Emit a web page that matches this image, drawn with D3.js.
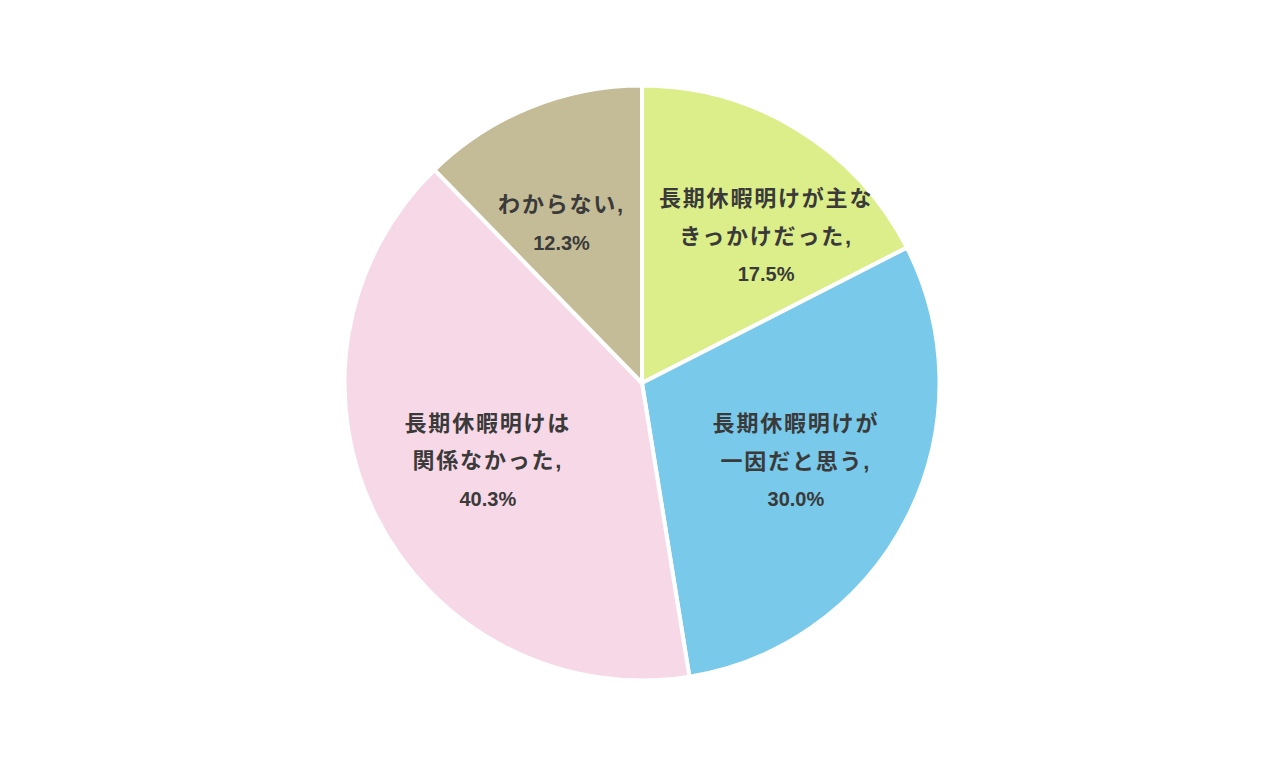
<!DOCTYPE html>
<html lang="ja">
<head>
  <meta charset="utf-8">
  <script src="https://d3js.org/d3.v7.min.js"></script>
  <style>
    body { margin: 0; background: #fff; }
    svg text {
      font-family: "Liberation Sans", "Noto Sans CJK JP", sans-serif;
      font-weight: bold;
      fill: #3a3a3a;
      text-anchor: middle;
    }
    svg text .jp { font-size: 22px; letter-spacing: 1.8px; }
    svg text .pct { font-size: 20px; }
  </style>
</head>
<body>
<script>
  // slice data, clockwise from 12 o'clock
  var labels = [
    ["長期休暇明けが主な", "きっかけだった,"],
    ["長期休暇明けが", "一因だと思う,"],
    ["長期休暇明けは", "関係なかった,"],
    ["わからない,"]
  ];
  var values = [17.5, 30.0, 40.3, 12.3];
  var colors = ["#dcee89", "#78c9ea", "#f7d8e7", "#c4bc97"];

  var width = 1285, height = 769;
  var cx = 642, cy = 383, radius = 297.5;

  var svg = d3.select("body").append("svg")
    .attr("width", width).attr("height", height);

  var g = svg.append("g").attr("transform", "translate(" + cx + "," + cy + ")");

  var pie = d3.pie().sort(null).value(function(d) { return d; });
  var arc = d3.arc().innerRadius(0).outerRadius(radius);
  var labelArc = d3.arc().innerRadius(radius * 0.58).outerRadius(radius * 0.58);

  var arcs = pie(values);

  g.selectAll("path").data(arcs).enter().append("path")
    .attr("d", arc)
    .attr("fill", function(d, i) { return colors[i]; })
    .attr("stroke", "#fff")
    .attr("stroke-width", 4)
    .attr("stroke-linejoin", "round");

  var lineH = 37.5, margin = 17;
  arcs.forEach(function(d, i) {
    var lines = labels[i].concat([d3.format(".1f")(values[i]) + "%"]);
    var c = labelArc.centroid(d);
    var t = g.append("text")
      .attr("y", c[1] - (lines.length - 1) * lineH / 2);
    lines.forEach(function(s, j) {
      t.append("tspan")
        .attr("class", j === lines.length - 1 ? "pct" : "jp")
        .attr("x", c[0])
        .attr("dy", j === 0 ? "0.35em" : lineH)
        .text(s);
    });
    // keep label off the vertical divider for slices on one side
    var bb = t.node().getBBox(), x = c[0];
    if (d.startAngle >= 0 && d.endAngle <= Math.PI && bb.x < margin) x += margin - bb.x;
    if (d.startAngle >= Math.PI && bb.x + bb.width > -margin) x -= bb.x + bb.width + margin;
    t.selectAll("tspan").attr("x", x);
  });
</script>
</body>
</html>
